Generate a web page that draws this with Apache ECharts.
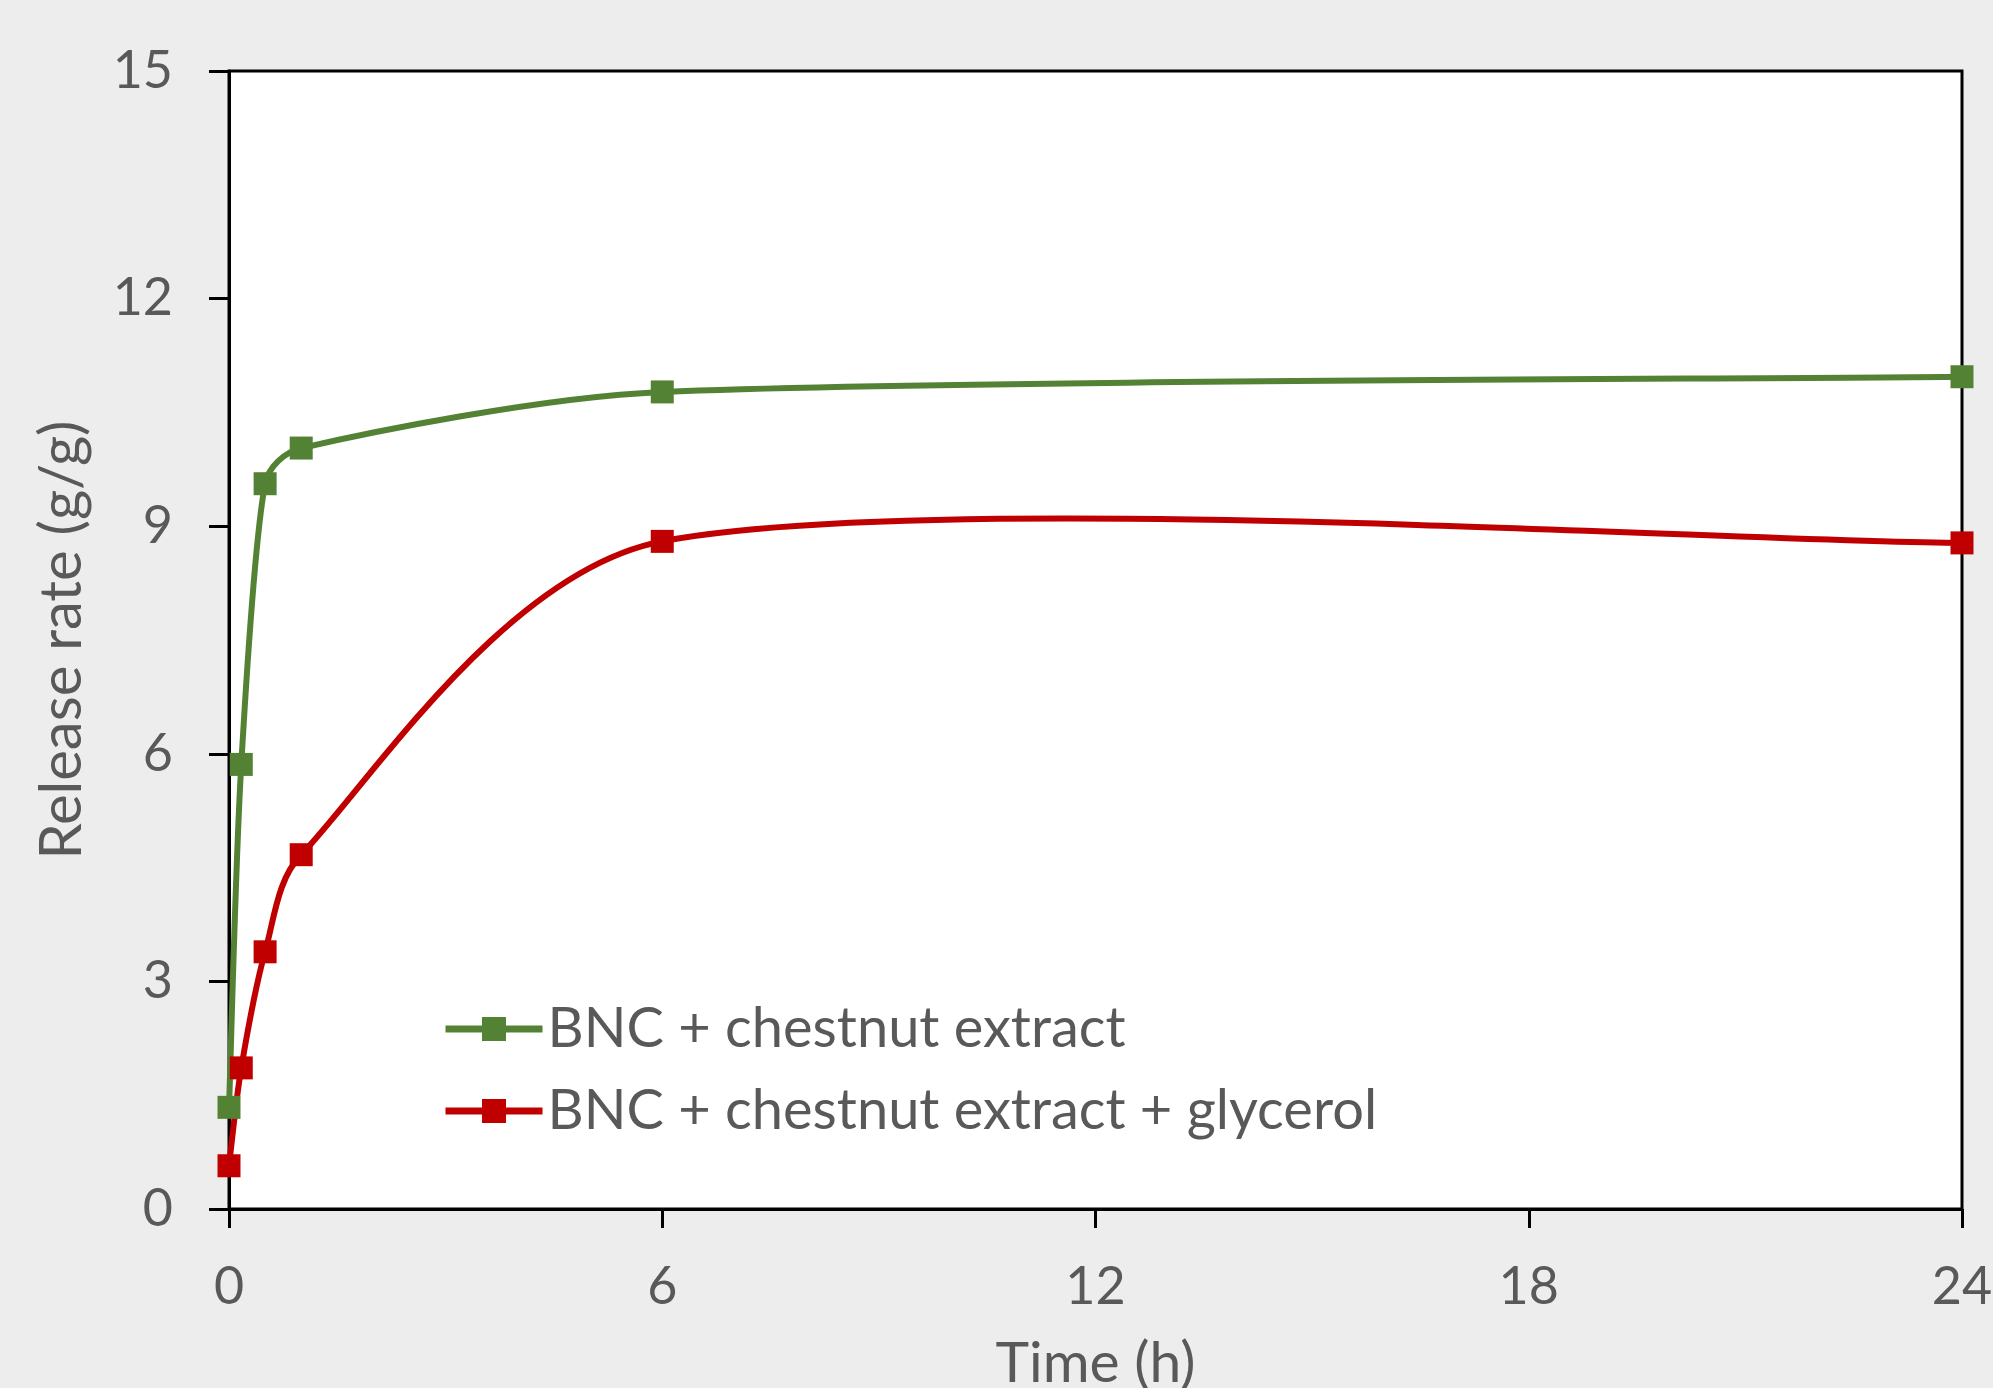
<!DOCTYPE html>
<html>
<head>
<meta charset="utf-8">
<script src="https://cdn.jsdelivr.net/npm/echarts@6/dist/echarts.min.js"></script>
<style>
html,body{margin:0;padding:0;background:#ededed;}
#chart{width:1993px;height:1388px;}
</style>
</head>
<body>
<div id="chart"></div>
<script>
const timeH = [0, 0.17, 0.5, 1, 6, 24];
const seriesNames = ['BNC + chestnut extract', 'BNC + chestnut extract + glycerol'];
const greenValues = [1.34, 5.86, 9.56, 10.03, 10.77, 10.97];
const redValues = [0.57, 1.86, 3.39, 4.67, 8.80, 8.78];
const xTicks = [0, 6, 12, 18, 24];
const yTicks = [0, 3, 6, 9, 12, 15];

const GREEN = '#548235';
const RED = '#C00000';
const TXT = '#595959';
const FONT = 'Lato';

function pairs(vals){ return timeH.map((t,i)=>[t, vals[i]]); }

// Excel-like smoothing: Catmull-Rom bezier segments computed from coords given by the axes
function makeCurveRenderer(vals, color){
  return function(params, api){
    const i = params.dataIndex;
    const n = vals.length;
    if (i >= n - 1) return null;
    const P = k => api.coord([timeH[Math.max(0, Math.min(n-1, k))], vals[Math.max(0, Math.min(n-1, k))]]);
    const dist = (a,b) => Math.hypot(a[0]-b[0], a[1]-b[1]);
    const p0 = P(i-1), p1 = P(i), p2 = P(i+1), p3 = P(i+2);
    const v1 = [p2[0]-p0[0], p2[1]-p0[1]];
    const v2 = [p3[0]-p1[0], p3[1]-p1[1]];
    const d12 = dist(p1,p2);
    const l1 = Math.hypot(v1[0], v1[1]) || 1;
    const l2 = Math.hypot(v2[0], v2[1]) || 1;
    const f1 = Math.min(1, 2*d12/l1) / 6;
    const f2 = Math.min(1, 2*d12/l2) / 6;
    return {
      type: 'bezierCurve',
      shape: {
        x1: p1[0], y1: p1[1], x2: p2[0], y2: p2[1],
        cpx1: p1[0] + v1[0]*f1, cpy1: p1[1] + v1[1]*f1,
        cpx2: p2[0] - v2[0]*f2, cpy2: p2[1] - v2[1]*f2
      },
      style: { stroke: color, lineWidth: 6, fill: null, lineCap: 'round' }
    };
  };
}

const chart = echarts.init(document.getElementById('chart'));
chart.setOption({
  backgroundColor: '#ededed',
  animation: false,
  grid: {
    left: 229, right: 31, top: 71, bottom: 179,
    outerBoundsMode: 'none', containLabel: false,
    show: true, backgroundColor: '#ffffff', borderColor: '#000', borderWidth: 3
  },
  legend: {
    orient: 'vertical',
    left: 437, top: 996,
    itemWidth: 97, itemHeight: 30, itemGap: 26,
    data: seriesNames,
    lineStyle: { opacity: 1, width: 7 },
    textStyle: { fontFamily: FONT, fontSize: 56, color: TXT, padding: [0,0,0,0] }
  },
  xAxis: {
    type: 'value', min: 0, max: 24, interval: 6,
    name: 'Time (h)', nameLocation: 'middle', nameGap: 126,
    nameTextStyle: { fontFamily: FONT, fontSize: 57, color: TXT },
    axisLine: { show: true, lineStyle: { color: '#000', width: 3 } },
    axisTick: { show: true, length: 19, lineStyle: { color: '#000', width: 3 } },
    axisLabel: { fontFamily: FONT, fontSize: 52, color: TXT, margin: 52,
      formatter: v => xTicks.includes(v) ? String(v) : '' },
    splitLine: { show: false }
  },
  yAxis: {
    type: 'value', min: 0, max: 15, interval: 3,
    name: 'Release rate (g/g)', nameLocation: 'middle', nameGap: 138, nameRotate: 90,
    nameTextStyle: { fontFamily: FONT, fontSize: 58, color: TXT },
    axisLine: { show: true, lineStyle: { color: '#000', width: 3 } },
    axisTick: { show: true, length: 20, lineStyle: { color: '#000', width: 3 } },
    axisLabel: { fontFamily: FONT, fontSize: 52, color: TXT, margin: 56,
      formatter: v => yTicks.includes(v) ? String(v) : '' },
    splitLine: { show: false }
  },
  series: [
    { type: 'custom', name: 'curveG', z: 2, silent: true, clip: false,
      data: pairs(greenValues), renderItem: makeCurveRenderer(greenValues, GREEN) },
    { type: 'custom', name: 'curveR', z: 2, silent: true, clip: false,
      data: pairs(redValues), renderItem: makeCurveRenderer(redValues, RED) },
    { type: 'line', name: seriesNames[0], z: 5, data: pairs(greenValues),
      symbol: 'rect', symbolSize: 23, showSymbol: true,
      itemStyle: { color: GREEN }, lineStyle: { color: GREEN, opacity: 0, width: 6 } },
    { type: 'line', name: seriesNames[1], z: 5, data: pairs(redValues),
      symbol: 'rect', symbolSize: 23, showSymbol: true,
      itemStyle: { color: RED }, lineStyle: { color: RED, opacity: 0, width: 6 } }
  ]
});
</script>
</body>
</html>
